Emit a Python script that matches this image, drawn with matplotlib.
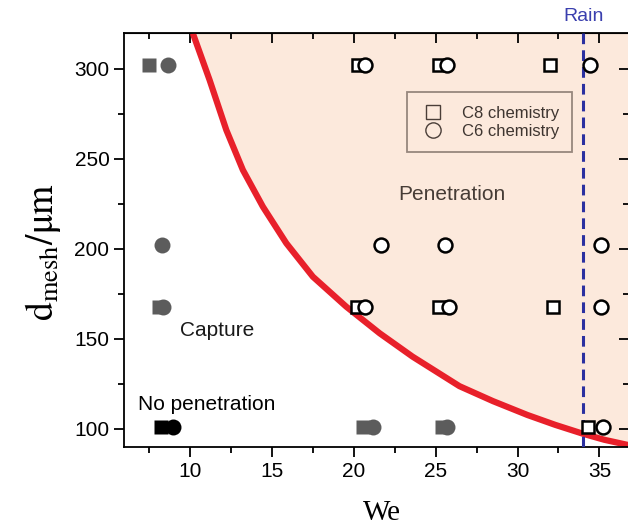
import matplotlib
matplotlib.use("Agg")
import matplotlib.pyplot as plt
from matplotlib.ticker import MultipleLocator
from matplotlib.lines import Line2D

plt.rcParams['font.family'] = ['Liberation Sans', 'DejaVu Sans']
plt.rcParams['mathtext.fontset'] = 'stix'

# boundary curve between capture and penetration
curve_we = [10.2, 11.22, 12.24, 13.25, 14.47, 15.9, 17.52, 19.55, 21.59, 23.6, 26.46,
            28.5, 30.6, 32.3, 33.98, 35.3, 36.7, 37.0]
curve_d = [319.8, 293.9, 266.1, 243.9, 223.5, 203.2, 184.6, 168.0, 153.2, 140.2, 123.8,
           115.5, 107.8, 102.3, 97.4, 94.0, 91.2, 90.6]

# capture (grey filled)
cap_sq_we = [7.5, 8.13, 20.57, 25.4]
cap_sq_d = [302, 168, 101, 101]
cap_ci_we = [8.66, 8.34, 8.37, 21.2, 25.7]
cap_ci_d = [302, 202, 168, 101, 101]

# no penetration (black filled)
nopen_sq_we = [8.27]
nopen_sq_d = [101]
nopen_ci_we = [8.98]
nopen_ci_d = [101]

# penetration (open markers)
pen_sq_we = [20.3, 25.24, 32.0, 20.2, 25.24, 32.15, 34.3]
pen_sq_d = [302, 302, 302, 168, 168, 168, 101]
pen_ci_we = [20.67, 25.73, 34.4, 21.7, 25.6, 35.1, 20.67, 25.8, 35.1, 35.24]
pen_ci_d = [302, 302, 302, 202, 202, 202, 168, 168, 168, 101]

rain_we = 34.0

peach = '#fce9dc'
grey = '#5c5c5c'

fig = plt.figure(figsize=(6.28, 5.27), dpi=100)
ax = fig.add_axes([124 / 628, 80 / 527, 505 / 628, 414 / 527])
ax.set_xlim(6, 36.8)
ax.set_ylim(90, 320)

ax.fill_between(curve_we, curve_d, 320, color=peach, lw=0, zorder=0)
ax.plot(curve_we, curve_d, color='#e8202a', lw=4.5, zorder=2, solid_capstyle='butt')
ax.axvline(rain_we, color='#2b30a0', lw=2.2, ls=(0, (3.5, 2)), zorder=3)

ax.plot(cap_sq_we, cap_sq_d, 's', ms=10, color=grey, mec='none', zorder=4)
ax.plot(cap_ci_we, cap_ci_d, 'o', ms=11.5, color=grey, mec='none', zorder=5)
ax.plot(nopen_sq_we, nopen_sq_d, 's', ms=10, color='black', mec='none', zorder=4)
ax.plot(nopen_ci_we, nopen_ci_d, 'o', ms=11.5, color='black', mec='none', zorder=5)
ax.plot(pen_sq_we, pen_sq_d, 's', ms=9, mfc='white', mec='black', mew=1.8, zorder=4)
ax.plot(pen_ci_we, pen_ci_d, 'o', ms=10, mfc='white', mec='black', mew=1.8, zorder=5)

ax.text(26.0, 230, 'Penetration', fontsize=15, color='#463c36', ha='center', va='center')
ax.text(9.4, 155, 'Capture', fontsize=15, color='#1a1a1a', ha='left', va='center')
ax.text(6.85, 113.5, 'No penetration', fontsize=15, color='black', ha='left', va='center')
ax.text(rain_we, 329, 'Rain', fontsize=14, color='#3a3fae', ha='center', va='center', clip_on=False)

handles = [
    Line2D([], [], ls='none', marker='s', ms=10, mfc='none', mec='#4a3e38', mew=1.0),
    Line2D([], [], ls='none', marker='o', ms=11, mfc='none', mec='#4a3e38', mew=1.0),
]
leg = ax.legend(handles, ['C8 chemistry', 'C6 chemistry'], loc='upper left',
                bbox_to_anchor=(0.56, 0.857), fontsize=12, frameon=True, fancybox=False,
                handletextpad=0.9, borderpad=0.8, labelspacing=0.2, borderaxespad=0,
                handlelength=1.6, shadow=False)
leg.get_frame().set_facecolor(peach)
leg.get_frame().set_edgecolor('#7d6e66')
leg.get_frame().set_linewidth(1.3)
for t in leg.get_texts():
    t.set_color('#3e3530')

ax.xaxis.set_major_locator(MultipleLocator(5))
ax.xaxis.set_minor_locator(MultipleLocator(2.5))
ax.yaxis.set_major_locator(MultipleLocator(50))
ax.yaxis.set_minor_locator(MultipleLocator(25))
ax.tick_params(which='both', direction='out', width=1.3, labelsize=15, top=False, right=False)
ax.tick_params(which='major', length=7)
ax.tick_params(which='minor', length=4)
for s in ax.spines.values():
    s.set_linewidth(1.3)

top = ax.secondary_xaxis('top')
top.xaxis.set_major_locator(MultipleLocator(5))
top.xaxis.set_minor_locator(MultipleLocator(2.5))
top.tick_params(which='both', direction='in', width=1.3, labeltop=False)
top.tick_params(which='major', length=7)
top.tick_params(which='minor', length=4)
right = ax.secondary_yaxis('right')
right.yaxis.set_major_locator(MultipleLocator(50))
right.yaxis.set_minor_locator(MultipleLocator(25))
right.tick_params(which='both', direction='in', width=1.3, labelright=False)
right.tick_params(which='major', length=7)
right.tick_params(which='minor', length=4)

ax.set_xlabel('We', fontsize=21, family='Liberation Serif')
ax.xaxis.set_label_coords(0.51, -0.128)
ax.set_ylabel(r'$\mathrm{d_{mesh}/μm}$', fontsize=27)
ax.yaxis.set_label_coords(-0.12, 0.47)

fig.savefig('out.png', dpi=100)
